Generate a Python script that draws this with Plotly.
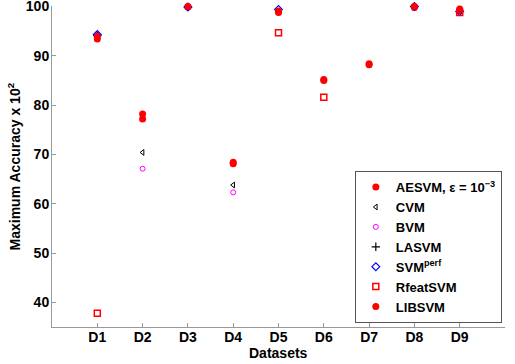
import plotly.graph_objects as go

datasets = ["D1", "D2", "D3", "D4", "D5", "D6", "D7", "D8", "D9"]
x_pos = [1, 2, 3, 4, 5, 6, 7, 8, 9]
y_ticks = [40, 50, 60, 70, 80, 90, 100]

aesvm = [93.4, 77.2, 99.9, 68.1, 98.8, 85.0, 88.2, 99.8, 99.2]
cvm = [94.0, 70.4, None, 63.8, None, None, None, None, None]
bvm = [94.2, 67.1, None, 62.3, None, None, None, None, None]
lasvm = [94.1, None, None, None, None, None, None, None, None]
svmperf = [94.3, None, 99.9, None, 99.4, None, None, 100.0, 99.0]
rfeatsvm = [37.8, None, None, None, 94.7, 81.6, None, None, 98.8]
libsvm = [93.9, 78.2, 100.0, 68.4, 99.1, 85.2, 88.4, 100.0, 99.5]

series = [
    ("AESVM, \u03b5 = 10<sup>\u22123</sup>", aesvm, dict(symbol="circle", color="#ff0000", size=7)),
    ("CVM", cvm, dict(symbol="triangle-left-open", color="black", size=5, line=dict(width=1))),
    ("BVM", bvm, dict(symbol="circle-open", color="#ff00ff", size=5, line=dict(width=1))),
    ("LASVM", lasvm, dict(symbol="cross-thin-open", color="black", size=6, line=dict(width=1.2))),
    ("SVM<sup>perf</sup>", svmperf, dict(symbol="diamond-open", color="#0000ff", size=6, line=dict(width=1.2))),
    ("RfeatSVM", rfeatsvm, dict(symbol="square-open", color="#ff0000", size=6, line=dict(width=1.5))),
    ("LIBSVM", libsvm, dict(symbol="circle", color="#ff0000", size=7)),
]

fig = go.Figure()
for name, vals, mk in series:
    fig.add_trace(go.Scatter(x=x_pos, y=vals, mode="markers", name=name, marker=mk, cliponaxis=False))

font_family = "Liberation Sans, Arial, sans-serif"
fig.update_layout(
    width=515, height=364,
    margin=dict(l=52, r=10, t=6, b=37, autoexpand=False),
    paper_bgcolor="white", plot_bgcolor="white",
    font=dict(family=font_family, size=14, color="black"),
    showlegend=True,
    legend=dict(
        x=0.993, y=0.012, xanchor="right", yanchor="bottom",
        bordercolor="#555", borderwidth=1, bgcolor="white",
        font=dict(size=13, family=font_family, weight="bold"),
        itemwidth=30, tracegroupgap=0,
    ),
    xaxis=dict(
        range=[0, 10], tickmode="array", tickvals=x_pos,
        ticktext=["<b>%s</b>" % d for d in datasets],
        showgrid=False, zeroline=False, showline=True, linecolor="#999", linewidth=1,
        ticks="inside", ticklen=4, tickcolor="#999", automargin=False,
        ticklabelstandoff=-3, ticklabeloverflow="allow",
        tickfont=dict(size=14),
    ),
    yaxis=dict(
        range=[35, 100.1], tickmode="array", tickvals=y_ticks,
        ticktext=["<b>%d</b>" % v for v in y_ticks],
        showgrid=False, zeroline=False, showline=True, linecolor="#999", linewidth=1,
        ticks="inside", ticklen=4, tickcolor="#999", automargin=False,
        ticklabelstandoff=-1, ticklabeloverflow="allow",
        tickfont=dict(size=14),
    ),
)
fig.add_annotation(text="<b>Datasets</b>", xref="paper", yref="paper", x=0.5, y=-0.08,
                   xanchor="center", yanchor="middle", showarrow=False, borderpad=0,
                   font=dict(size=14))
fig.add_annotation(text="<b>Maximum Accuracy x 10<sup>2</sup></b>", xref="paper", yref="paper",
                   x=-0.084, y=0.5, xanchor="center", yanchor="middle", textangle=-90,
                   showarrow=False, borderpad=0, font=dict(size=14))
fig.write_html("out.html", config={"displayModeBar": False},
               post_script="document.body.style.margin='0';")
